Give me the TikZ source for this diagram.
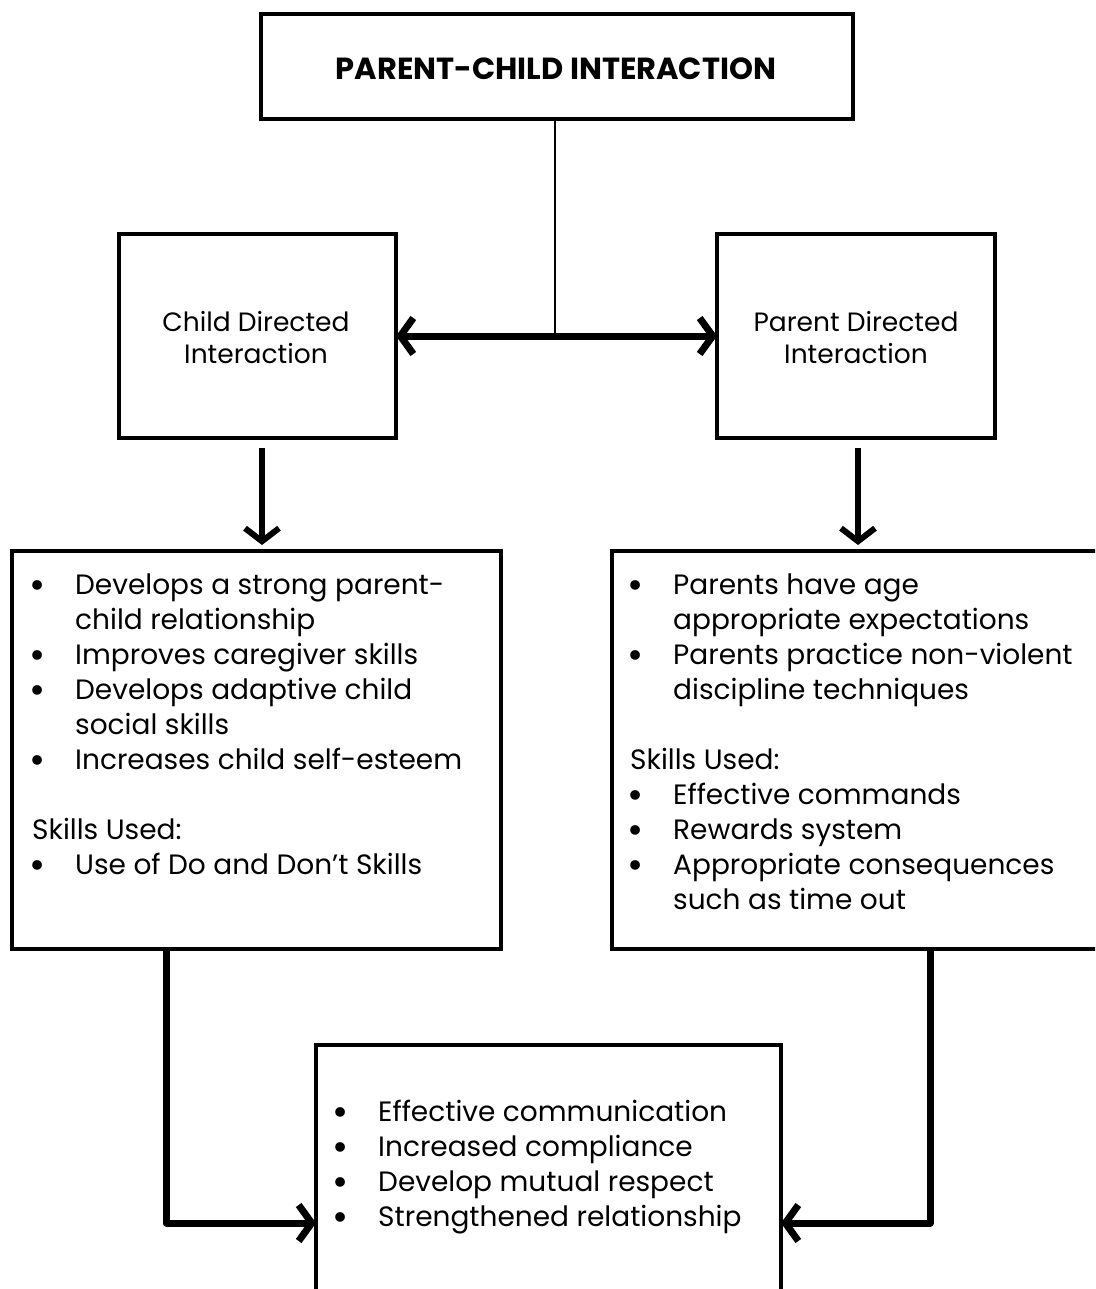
\documentclass[tikz,border=0pt]{standalone}
\usepackage{fontspec}
\setmainfont{Poppins}
\usetikzlibrary{arrows.meta}
\newcommand\bul{\makebox[10pt]{\smash{\raisebox{-4pt}{\scalebox{1.4}{•}}}}\hspace*{33pt}}
\newcommand\ind{\hspace*{43pt}}
\begin{document}
\begin{tikzpicture}[x=1pt,y=-1pt,
  box/.style={draw,line width=4.5pt,inner sep=0pt,outer sep=0pt},
  lbl/.style={font=\fontsize{26.5}{32}\selectfont,align=center},
  lst/.style={font=\fontsize{28}{35}\selectfont,align=left,inner sep=0pt,anchor=base west},
  arr/.style={line width=7pt,-{Straight Barb[length=13pt,width=36pt]}},
  darr/.style={line width=6pt,-{Straight Barb[length=13pt,width=34pt]}},
  dbl/.style={line width=7pt,{Straight Barb[length=13pt,width=36pt]}-{Straight Barb[length=13pt,width=36pt]}}]
\clip (0,0) rectangle (1095,1289);
\fill[white] (0,0) rectangle (1095,1289);
% boxes
\node[box,minimum width=592pt,minimum height=105pt] (top) at (557,66.5) {};
\node[box,minimum width=277pt,minimum height=204pt] (child) at (257.5,336) {};
\node[box,minimum width=278pt,minimum height=204pt] (parent) at (856,336) {};
\node[box,minimum width=489pt,minimum height=398pt] (lbox) at (256.5,750) {};
\node[box,minimum width=498pt,minimum height=398pt] (rbox) at (861,750) {};
\node[box,minimum width=465pt,minimum height=265pt] (bot) at (548.5,1177.5) {};
% texts
\node[font=\fontsize{30.5}{32}\selectfont\bfseries] (ttl) at (556,69) {PARENT-CHILD INTERACTION};
\node[lbl] (ctxt) at (256,338) {Child Directed\\Interaction};
\node[lbl] (ptxt) at (856,338) {Parent Directed\\Interaction};
\node[lst] (ltxt) at (32,874) {\bul Develops a strong parent-\\
\ind child relationship\\
\bul Improves caregiver skills\\
\bul Develops adaptive child\\
\ind social skills\\
\bul Increases child self-esteem\\[35pt]
Skills Used:\\
\bul Use of Do and Don’t Skills};
\node[lst] (rtxt) at (630,909) {\bul Parents have age\\
\ind appropriate expectations\\
\bul Parents practice non-violent\\
\ind discipline techniques\\[35pt]
Skills Used:\\
\bul Effective commands\\
\bul Rewards system\\
\bul Appropriate consequences\\
\ind such as time out};
\node[lst] (btxt) at (335,1226) {\bul Effective communication\\
\bul Increased compliance\\
\bul Develop mutual respect\\
\bul Strengthened relationship};
% connectors
\coordinate (j) at (555,337);
\coordinate (dl) at (262,0);
\coordinate (dr) at (858,0);
\coordinate (el) at (166,1223);
\coordinate (er) at (930,1223);
\draw[line width=2.8pt] (top.south -| j) -- (j);
\draw[dbl] (child.east) -- (parent.west);
\draw[darr,shorten <=10pt,shorten >=6pt] (child.south -| dl) -- (lbox.north -| dl);
\draw[darr,shorten <=10pt,shorten >=6pt] (parent.south -| dr) -- (rbox.north -| dr);
\draw[arr,line join=round] (lbox.south -| el) -- (el) -- (el -| bot.west);
\draw[arr,line join=round] (rbox.south -| er) -- (er) -- (er -| bot.east);
\end{tikzpicture}
\end{document}
